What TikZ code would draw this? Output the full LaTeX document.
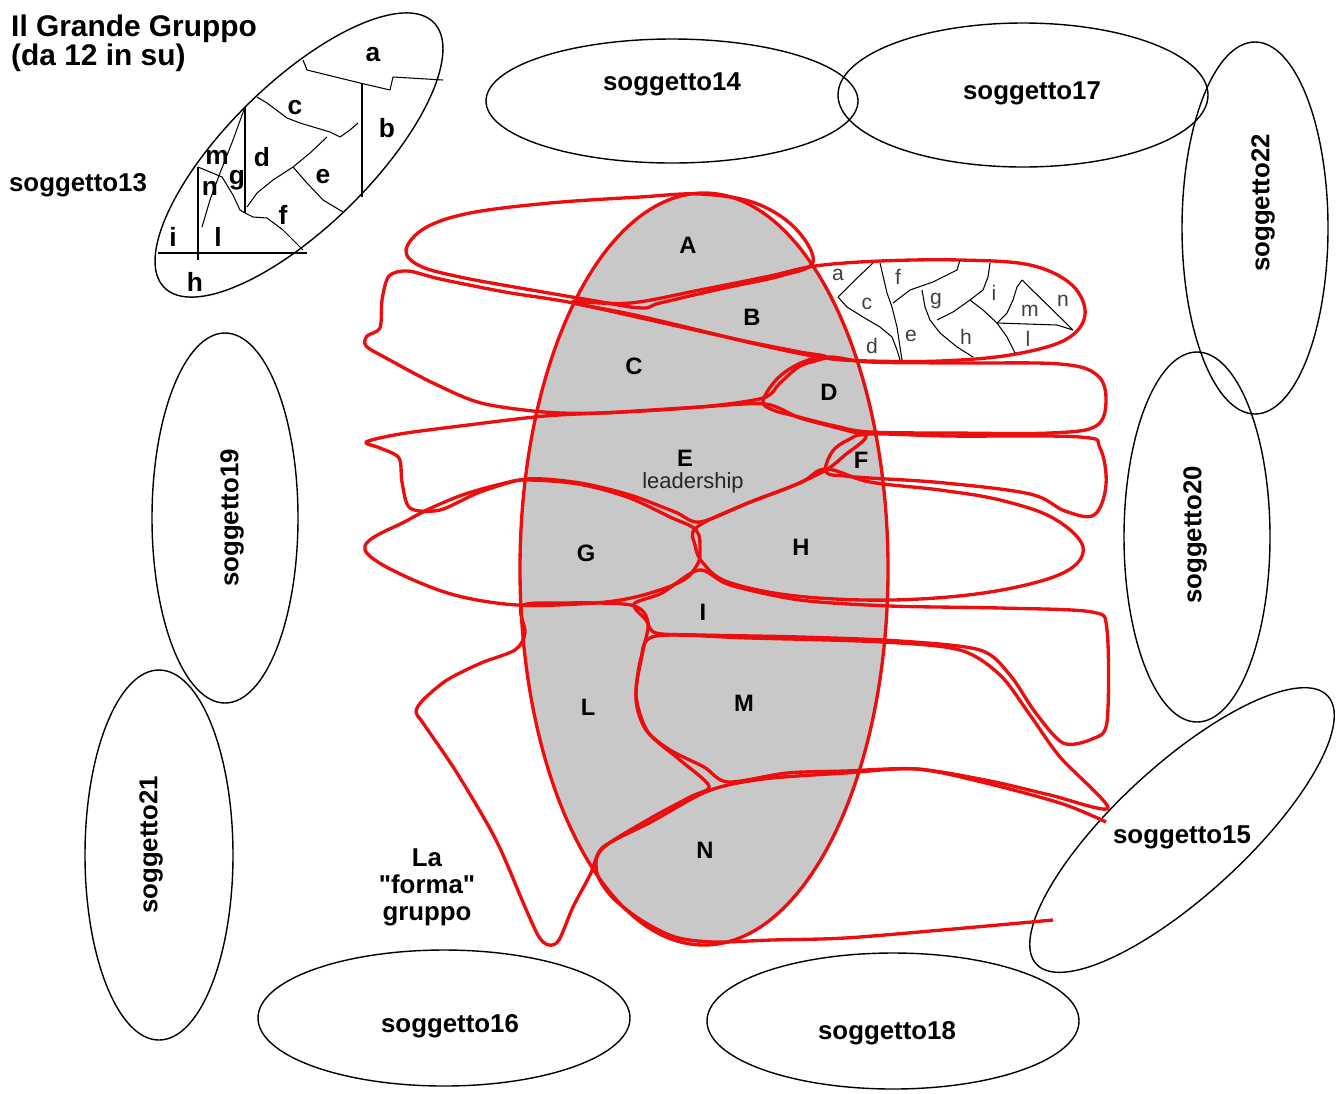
\documentclass[tikz,border=0pt]{standalone}
\usepackage{fontspec}
\setmainfont{Liberation Sans}[Ligatures=TeXOff]
\definecolor{redline}{RGB}{236,14,14}
\definecolor{groupgray}{RGB}{200,200,200}

\tikzstyle{every node}=[inner sep=0.5pt]
\tikzstyle{outline}=[draw=black, line width=0.8pt]
\tikzstyle{subjname}=[font={\bfseries\fontsize{14.7}{17}\selectfont}]
\tikzstyle{blob}=[draw=redline, line width=1.9pt, line join=round]
\tikzstyle{region}=[font={\bfseries\fontsize{13.5}{15}\selectfont}]
\tikzstyle{member}=[font={\bfseries\fontsize{15}{17}\selectfont}]
\tikzstyle{minimember}=[font={\fontsize{12}{14}\selectfont}, text=black!75]
\tikzstyle{cut}=[draw=black, line width=0.6pt, line join=round]

\begin{document}
\begin{tikzpicture}[x=0.02cm, y=-0.02cm]
    \useasboundingbox (0,0) rectangle (1338,1093);

    % the others, outside the group
    \draw[outline] (672,101) ellipse [x radius=186, y radius=62];
    \draw[outline] (1023,95) ellipse [x radius=185, y radius=72];
    \draw[outline] (1255,228) ellipse [x radius=73, y radius=186];
    \draw[outline] (1197,537) ellipse [x radius=73, y radius=185];
    \draw[outline] (225,518) ellipse [x radius=73, y radius=185];
    \draw[outline] (159,855) ellipse [x radius=74, y radius=185];
    \draw[outline] (444,1018) ellipse [x radius=186, y radius=68];
    \draw[outline] (893,1021) ellipse [x radius=186, y radius=68];
    \draw[outline, rotate around={42.6:(1182,830)}] (1182,830) ellipse [x radius=198, y radius=65];
    \draw[outline, rotate around={44.5:(299,155)}] (299,155) ellipse [x radius=189, y radius=72];

    \node[subjname] (s14) at (672,84) {soggetto14};
    \node[subjname] (s17) at (1032,93) {soggetto17};
    \node[subjname, rotate=90] (s22) at (1263,203) {soggetto22};
    \node[subjname, rotate=90] (s20) at (1195,535) {soggetto20};
    \node[subjname, rotate=90] (s19) at (232,518) {soggetto19};
    \node[subjname, rotate=90] (s21) at (151,845) {soggetto21};
    \node[subjname] (s16) at (450,1026) {soggetto16};
    \node[subjname] (s18) at (887,1033) {soggetto18};
    \node[subjname] (s15) at (1182,837) {soggetto15};
    \node[subjname] (s13) at (78,185) {soggetto13};

    \node[anchor=north west, align=left, font={\bfseries\fontsize{17}{16.5}\selectfont}] (title) at (10,14) {Il Grande Gruppo\\(da 12 in su)};

    % soggetto13 split in pieces
    \draw[cut] (303,60) -- (307,70) -- (360,83) -- (390,90) -- (393,77) -- (443,80);
    \draw[cut] (362,83) -- (362,197);
    \draw[cut] (257,97) -- (267,103) -- (287,118) -- (300,123) -- (330,132) -- (340,137) -- (350,130) -- (358,123);
    \draw[cut] (327,137) -- (310,153) -- (293,167) -- (273,180) -- (257,193) -- (247,207);
    \draw[cut] (293,167) -- (307,183) -- (323,200) -- (343,212);
    \draw[cut] (245,107) -- (245,213);
    \draw[cut] (245,213) -- (253,217) -- (267,218) -- (283,230) -- (303,250);
    \draw[cut] (158,253) -- (307,253);
    \draw[cut] (198,167) -- (198,260);
    \draw[cut] (198,167) -- (222,177) -- (233,195) -- (240,210) -- (245,213);
    \draw[cut] (245,107) -- (233,140) -- (220,173) -- (210,200) -- (202,227);

    \node[member] (ta) at (373,55) {a};
    \node[member] (tb) at (387,128) {b};
    \node[member] (tc) at (295,108) {c};
    \node[member] (td) at (262,157) {d};
    \node[member] (te) at (323,177) {e};
    \node[member] (tf) at (283,215) {f};
    \node[member] (tg) at (237,180) {g};
    \node[member] (tm) at (217,157) {m};
    \node[member] (tn) at (210,188) {n};
    \node[member] (ti) at (173,237) {i};
    \node[member] (tl) at (218,237) {l};
    \node[member] (th) at (195,282) {h};

    % the group
    \fill[groupgray] (704,569) ellipse [x radius=184, y radius=376];

    % A
    \draw[blob] plot[smooth cycle, tension=0.6] coordinates {(406,250) (425,228) (470,213) (550,203) (640,197) (700,194) (755,203) (795,228) (813,262) (780,276) (720,289) (660,303) (641,308) (590,300) (520,288) (460,277) (420,266)};
    % B
    \draw[blob] plot[smooth cycle, tension=0.6] coordinates {(572,302) (630,303) (700,290) (770,276) (815,266) (880,261) (960,260) (1030,265) (1072,285) (1085,315) (1065,340) (1010,355) (940,361) (870,361) (825,358) (760,345) (690,328) (630,314)};
    % C
    \draw[blob] plot[smooth cycle, tension=0.5] coordinates {(389,276) (408,271) (440,279) (505,292) (568,302) (650,320) (740,340) (800,352) (826,357) (800,366) (780,383) (763,398) (700,407) (602,413) (544,412) (481,403) (433,383) (386,358) (366,346) (367,336) (380,328) (382,300)};
    % D
    \draw[blob] plot[smooth cycle, tension=0.6] coordinates {(763,401) (778,378) (803,362) (830,357) (870,362) (960,363) (1060,364) (1097,375) (1106,400) (1096,426) (1050,433) (950,433) (870,432) (835,426) (795,416) (773,410)};
    % E
    \draw[blob] plot[smooth cycle, tension=0.5] coordinates {(366,442) (400,434) (460,426) (545,416) (620,412) (700,407) (765,404) (800,418) (845,430) (866,437) (845,455) (826,470) (790,487) (748,503) (700,522) (675,512) (630,495) (580,483) (527,479) (480,492) (440,510) (410,508) (402,482) (399,458) (380,448)};
    % F
    \draw[blob] plot[smooth cycle, tension=0.6] coordinates {(826,472) (832,452) (848,440) (870,434) (950,436) (1080,437) (1100,448) (1106,485) (1094,515) (1065,511) (1030,494) (945,483) (870,478) (845,476)};
    % G
    \draw[blob] plot[smooth cycle, tension=0.6] coordinates {(365,550) (408,520) (457,497) (505,483) (528,480) (578,484) (627,497) (670,517) (696,530) (700,550) (697,565) (680,582) (631,598) (578,604) (505,604) (433,588)};
    % H
    \draw[blob] plot[smooth cycle, tension=0.6] coordinates {(697,527) (748,503) (800,483) (826,469) (870,482) (940,490) (1000,500) (1053,518) (1083,547) (1063,573) (990,592) (893,600) (796,596) (728,582) (703,563) (695,545)};
    % I
    \draw[blob] plot[smooth cycle, tension=0.5] coordinates {(634,604) (662,593) (699,570) (730,585) (800,600) (890,606) (1000,608) (1092,612) (1107,630) (1107,722) (1092,739) (1063,743) (1035,712) (1010,675) (980,650) (900,641) (800,637) (700,635) (656,633) (646,620)};
    % M
    \draw[blob] plot[smooth cycle, tension=0.5] coordinates {(656,636) (750,638) (883,642) (960,650) (1000,675) (1030,715) (1060,757) (1108,808) (1050,795) (990,781) (917,769) (845,771) (787,773) (728,782) (704,767) (670,750) (646,730) (636,700) (641,658)};
    % L
    \draw[blob] plot[smooth cycle, tension=0.5] coordinates {(522,606) (560,603) (631,605) (648,622) (642,655) (636,695) (648,732) (680,760) (709,786) (690,797) (651,818) (603,848) (590,875) (573,907) (559,940) (549,945) (539,937) (525,907) (496,840) (457,773) (423,723) (416,712) (423,700) (447,680) (481,663) (515,650) (525,633)};
    % N
    \draw[blob] plot[smooth, tension=0.5] coordinates {(1106,822) (1063,804) (990,784) (917,769) (845,773) (772,778) (728,785) (699,795) (651,822) (602,848) (597,873) (612,897) (641,920) (675,937) (714,942) (772,940) (845,938) (942,930) (1053,920)};

    \draw[blob] (704,569) ellipse [x radius=184, y radius=376];

    % B split in pieces
    \draw[cut] (873,263) -- (855,280) -- (838,297);
    \draw[cut] (838,297) -- (847,307) -- (863,317) -- (880,327) -- (892,337) -- (897,350) -- (900,360);
    \draw[cut] (880,263) -- (887,293) -- (892,307) -- (897,327) -- (900,347) -- (902,360);
    \draw[cut] (893,303) -- (910,290) -- (933,282) -- (957,270) -- (960,260);
    \draw[cut] (922,290) -- (925,307) -- (930,320) -- (940,333) -- (957,347) -- (973,357);
    \draw[cut] (937,320) -- (953,312) -- (970,300) -- (983,290) -- (988,277) -- (990,263);
    \draw[cut] (970,300) -- (983,310) -- (997,323) -- (1007,337) -- (1015,353);
    \draw[cut] (997,323) -- (1007,313) -- (1013,300) -- (1017,287) -- (1022,280);
    \draw[cut] (1022,280) -- (1073,330);
    \draw[cut] (997,323) -- (1057,325) -- (1073,330);

    \node[minimember] (ba) at (838,275) {a};
    \node[minimember] (bc) at (867,304) {c};
    \node[minimember] (bd) at (872,346) {d};
    \node[minimember] (be) at (911,336) {e};
    \node[minimember] (bf) at (898,277) {f};
    \node[minimember] (bg) at (936,301) {g};
    \node[minimember] (bh) at (966,337) {h};
    \node[minimember] (bi) at (994,293) {i};
    \node[minimember] (bm) at (1030,311) {m};
    \node[minimember] (bn) at (1063,301) {n};
    \node[minimember] (bl) at (1028,339) {l};

    \node[region] (rA) at (688,245) {A};
    \node[region] (rB) at (752,317) {B};
    \node[region] (rC) at (634,366) {C};
    \node[region] (rD) at (829,392) {D};
    \node[region] (rE) at (685,458) {E};
    \node[font={\fontsize{12.5}{14}\selectfont}, text=black!85] (lead) at (693,483) {leadership};
    \node[region] (rF) at (861,460) {F};
    \node[region] (rG) at (586,553) {G};
    \node[region] (rH) at (801,547) {H};
    \node[region] (rI) at (703,612) {I};
    \node[region] (rL) at (588,707) {L};
    \node[region] (rM) at (744,703) {M};
    \node[region] (rN) at (705,850) {N};

    \node[subjname, align=center, font={\bfseries\fontsize{14.7}{15.3}\selectfont}] (forma) at (427,887) {La\\"forma"\\gruppo};
\end{tikzpicture}
\end{document}
